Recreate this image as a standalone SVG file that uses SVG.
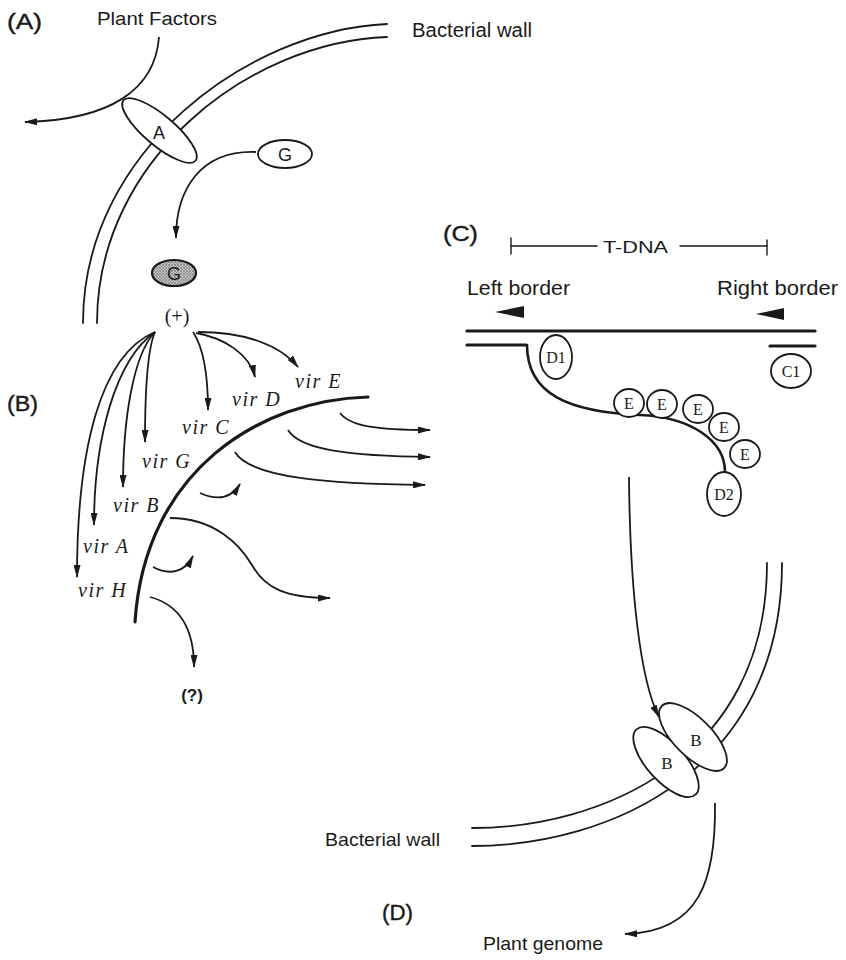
<svg xmlns="http://www.w3.org/2000/svg" width="846" height="960" viewBox="0 0 846 960">
<defs>
<marker id="ah" viewBox="0 0 13 7" refX="12" refY="3.5" markerWidth="13" markerHeight="7" markerUnits="userSpaceOnUse" orient="auto">
<path d="M0,0 L13,3.5 L0,7 z" fill="#1a1a1a"/>
</marker>
<pattern id="stip" width="3" height="3" patternUnits="userSpaceOnUse">
<rect width="3" height="3" fill="#c4c4c4"/>
<circle cx="1" cy="1" r="0.8" fill="#555"/>
<circle cx="2.5" cy="2.5" r="0.5" fill="#777"/>
</pattern>
<style>
.ln{fill:none;stroke:#1a1a1a;stroke-width:1.8;stroke-linecap:round}
.arr{fill:none;stroke:#1a1a1a;stroke-width:1.8;marker-end:url(#ah)}
.thick{fill:none;stroke:#1a1a1a;stroke-width:3.2;stroke-linecap:round}
.el{fill:#fff;stroke:#1a1a1a;stroke-width:1.8}
.sans{font-family:"Liberation Sans","DejaVu Sans",Arial,sans-serif;fill:#1a1a1a}
.ser{font-family:"Liberation Serif","DejaVu Serif",serif;fill:#1a1a1a}
.vir{font-family:"Liberation Serif","DejaVu Serif",serif;font-style:italic;font-size:20px;letter-spacing:1.5px;fill:#1a1a1a}
.lab{font-size:22px;stroke:#1a1a1a;stroke-width:0.4}
.in{font-size:18px;text-anchor:middle}
.ins{font-size:16px;text-anchor:middle}
</style>
</defs>
<rect width="846" height="960" fill="#fff"/>

<!-- Bacterial walls and membranes -->
<g id="walls">
<path class="ln" d="M387,24 C250,30 83,150 83,323"/>
<path class="ln" d="M387,37 C248,42 97,160 97,323"/>
<path class="thick" d="M368,397 C260,400 145,470 135,622"/>
<path class="ln" d="M472,828 C600,828 767,760 767,563"/>
<path class="ln" d="M472,846 C610,846 782,770 782,563"/>
</g>

<!-- DNA -->
<g id="dna">
<line class="thick" x1="467" y1="331" x2="815" y2="331"/>
<line class="thick" x1="467" y1="345" x2="526" y2="345"/>
<line class="thick" x1="770" y1="346" x2="815" y2="346"/>
<path class="ln" style="stroke-width:2.6" d="M527,345 C527,395 570,412 640,415 C690,417 725,440 725,472"/>
<polygon points="495,312 524,306 524,318" fill="#1a1a1a"/>
<polygon points="756,314 784,308 784,320" fill="#1a1a1a"/>
<g id="tdna-scale">
<line class="ln" x1="511" y1="246" x2="597" y2="246" style="stroke-width:1.4"/>
<line class="ln" x1="680" y1="246" x2="767" y2="246" style="stroke-width:1.4"/>
<line class="ln" x1="511" y1="238" x2="511" y2="254" style="stroke-width:1.4"/>
<line class="ln" x1="767" y1="240" x2="767" y2="255" style="stroke-width:1.4"/>
<text class="sans" x="603" y="253" font-size="17" textLength="65" lengthAdjust="spacingAndGlyphs">T-DNA</text>
</g>
</g>

<!-- Connectors -->
<g id="connectors">
<path class="arr" d="M159,37 C155,90 110,120 25,122"/>
<path class="arr" d="M256,152 C200,150 176,190 176,238"/>
<path class="arr" d="M155,332 C100,355 77,450 77,577"/>
<path class="arr" d="M155,332 C115,360 94,440 94,525"/>
<path class="arr" d="M155,332 C133,355 123,420 123,487"/>
<path class="arr" d="M155,332 C147,350 145,400 145,442"/>
<path class="arr" d="M193,332 C205,350 208,380 208,410"/>
<path class="arr" d="M196,333 C225,338 250,355 255,377"/>
<path class="arr" d="M198,332 C245,332 280,345 298,367"/>
<path class="arr" d="M340,413 C350,426 375,430 430,430"/>
<path class="arr" d="M288,430 C300,450 350,456 430,457"/>
<path class="arr" d="M235,452 C250,478 330,484 425,485"/>
<path class="arr" d="M200,493 C220,502 232,497 240,484"/>
<path class="arr" d="M153,567 C170,576 185,572 193,556"/>
<path class="arr" d="M170,518 C215,518 240,545 252,565 C265,588 285,598 330,598"/>
<path class="arr" d="M150,597 C180,605 194,630 194,667"/>
<path class="arr" d="M629,477 C630,590 640,680 659,717"/>
<path class="arr" d="M715,803 C716,880 700,932 625,934"/>
</g>

<!-- Nodes -->
<g id="node-A">
<ellipse class="el" cx="159.5" cy="130.5" rx="47" ry="15" transform="rotate(40 159.5 130.5)"/>
<text class="sans in" x="159" y="139">A</text>
</g>
<g id="node-G">
<ellipse class="el" cx="285" cy="154" rx="27" ry="14"/>
<text class="sans in" x="285" y="161">G</text>
</g>
<g id="node-G-active">
<ellipse cx="174" cy="273" rx="22" ry="13" fill="url(#stip)" stroke="#1a1a1a" stroke-width="2.2"/>
<text class="sans in" x="174" y="280">G</text>
</g>
<g id="node-D1">
<ellipse class="el" cx="556" cy="357" rx="16" ry="22"/>
<text class="ser ins" x="556" y="363">D1</text>
</g>
<g id="node-C1">
<ellipse class="el" cx="791" cy="371" rx="20" ry="17"/>
<text class="ser ins" x="791" y="377">C1</text>
</g>
<g id="node-E1"><ellipse class="el" cx="629" cy="403" rx="15" ry="14"/><text class="ser ins" x="629" y="409">E</text></g>
<g id="node-E2"><ellipse class="el" cx="662" cy="404" rx="15" ry="14"/><text class="ser ins" x="662" y="410">E</text></g>
<g id="node-E3"><ellipse class="el" cx="698" cy="409" rx="15" ry="14"/><text class="ser ins" x="698" y="415">E</text></g>
<g id="node-E4"><ellipse class="el" cx="724" cy="427" rx="15" ry="14"/><text class="ser ins" x="724" y="433">E</text></g>
<g id="node-E5"><ellipse class="el" cx="745" cy="454" rx="15" ry="14"/><text class="ser ins" x="745" y="460">E</text></g>
<g id="node-D2">
<ellipse class="el" cx="724" cy="494" rx="17" ry="22"/>
<text class="ser ins" x="724" y="500">D2</text>
</g>
<g id="node-B1">
<ellipse class="el" cx="666" cy="762" rx="44" ry="19" transform="rotate(48 666 762)"/>
<text class="ser" x="667" y="769" font-size="17" text-anchor="middle">B</text>
</g>
<g id="node-B2">
<ellipse class="el" cx="693" cy="737" rx="44" ry="19" transform="rotate(45 693 737)"/>
<text class="ser" x="696" y="746" font-size="17" text-anchor="middle">B</text>
</g>

<!-- Labels -->
<g id="labels">
<text class="sans lab" x="7" y="29" textLength="35" lengthAdjust="spacingAndGlyphs">(A)</text>
<text class="sans lab" x="7" y="411" textLength="31" lengthAdjust="spacingAndGlyphs">(B)</text>
<text class="sans lab" x="443" y="241" textLength="35" lengthAdjust="spacingAndGlyphs">(C)</text>
<text class="sans lab" x="382" y="920" textLength="31" lengthAdjust="spacingAndGlyphs">(D)</text>
<text class="sans" x="97" y="25" font-size="18" textLength="120" lengthAdjust="spacingAndGlyphs">Plant Factors</text>
<text class="sans" x="412" y="37" font-size="20" textLength="120" lengthAdjust="spacingAndGlyphs">Bacterial wall</text>
<text class="sans" x="467" y="295" font-size="20" textLength="103" lengthAdjust="spacingAndGlyphs">Left border</text>
<text class="sans" x="717" y="295" font-size="20" textLength="121" lengthAdjust="spacingAndGlyphs">Right border</text>
<text class="sans" x="325" y="846" font-size="19" textLength="115" lengthAdjust="spacingAndGlyphs">Bacterial wall</text>
<text class="sans" x="483" y="950" font-size="19" textLength="120" lengthAdjust="spacingAndGlyphs">Plant genome</text>
<text class="ser" x="177" y="323" font-size="20" text-anchor="middle">(+)</text>
<text class="sans" x="192" y="701" font-size="17" text-anchor="middle" font-weight="bold">(?)</text>
<text class="vir" x="295" y="388">vir E</text>
<text class="vir" x="232" y="406">vir D</text>
<text class="vir" x="182" y="434">vir C</text>
<text class="vir" x="142" y="468">vir G</text>
<text class="vir" x="113" y="512">vir B</text>
<text class="vir" x="83" y="553">vir A</text>
<text class="vir" x="78" y="597">vir H</text>
</g>
</svg>
